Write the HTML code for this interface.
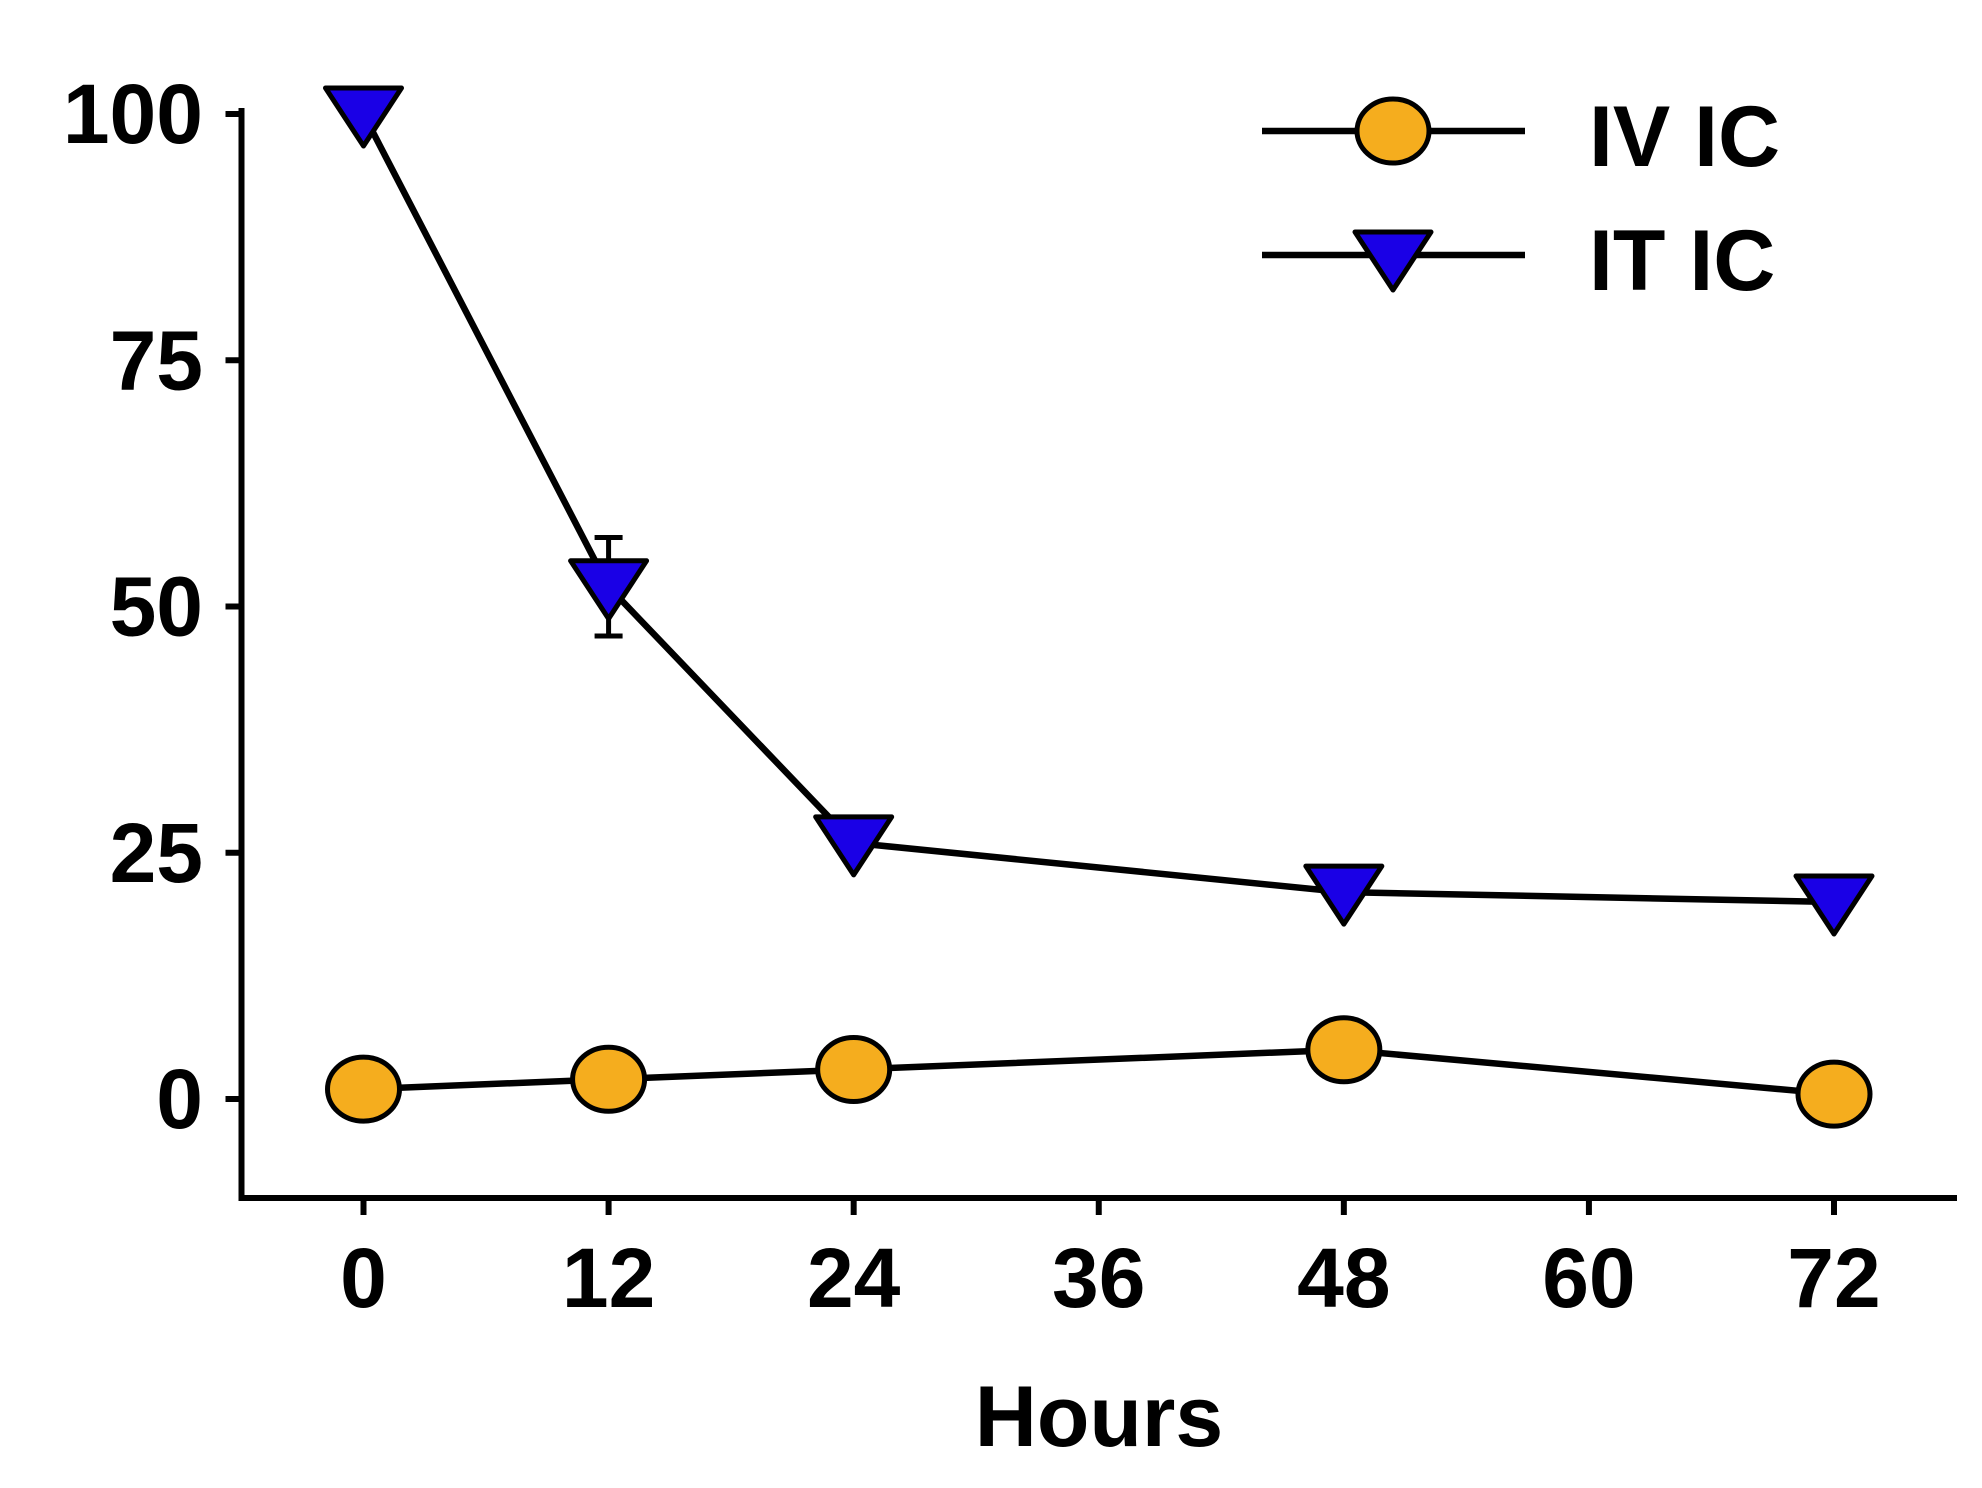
<!DOCTYPE html>
<html><head><meta charset="utf-8"><style>
html,body{margin:0;padding:0;background:#fff;}
svg{display:block;font-family:"Liberation Sans",Arial,sans-serif;font-weight:bold;}
</style></head><body>
<svg id="chart" width="1982" height="1488" viewBox="0 0 1982 1488" xmlns="http://www.w3.org/2000/svg"></svg>
<script>
const hours = [0, 12, 24, 48, 72];
const ivValues = [1, 2, 3, 5, 0.5];
const itValues = [100, 52, 26, 21, 20];
const itErrUpper = [null, 57, null, null, null];
const itErrLower = [null, 47, null, null, null];
const xTicks = [0, 12, 24, 36, 48, 60, 72];
const yTicks = [0, 25, 50, 75, 100];

const NS = "http://www.w3.org/2000/svg";
const svg = document.getElementById('chart');
const xs = v => 363.5 + v * (1834 - 363.5) / 72;
const ys = v => 1099 - v * (1099 - 114) / 100;
function mk(tag, attrs, parent) {
  const e = document.createElementNS(NS, tag);
  for (const k in attrs) e.setAttribute(k, attrs[k]);
  (parent || svg).appendChild(e);
  return e;
}
const axisX = 241.5, axisY = 1198;
let e;
e = mk('line', {x1: axisX, y1: 114 - 6, x2: axisX, y2: axisY + 3, stroke: '#000', 'stroke-width': 6});


e = mk('line', {x1: axisX - 3, y1: axisY, x2: 1957, y2: axisY, stroke: '#000', 'stroke-width': 6});


yTicks.forEach(t => {
  const y = ys(t);
  let tk = mk('line', {x1: axisX - 16, y1: y, x2: axisX, y2: y, stroke: '#000', 'stroke-width': 6});
  
  
  let lb = mk('text', {x: 203, y: y + 29, 'text-anchor': 'end', 'font-size': 84, fill: '#000'});
  lb.textContent = t;
  
  
});
xTicks.forEach(t => {
  const x = xs(t);
  let tk = mk('line', {x1: x, y1: axisY, x2: x, y2: axisY + 17, stroke: '#000', 'stroke-width': 6});
  
  
  let lb = mk('text', {x: x, y: 1307, 'text-anchor': 'middle', 'font-size': 84, fill: '#000'});
  lb.textContent = t;
  
  
});
e = mk('text', {x: 1099, y: 1446, 'text-anchor': 'middle', 'font-size': 86, fill: '#000'});
e.textContent = 'Hours';



function tri(cx, cy, parent) {
  return mk('polygon', {points: `${cx-38},${cy-26} ${cx+38},${cy-26} ${cx},${cy+32}`, fill: '#1a00e6', stroke: '#000', 'stroke-width': 5, 'stroke-linejoin': 'round'}, parent);
}
function circ(cx, cy, parent) {
  return mk('ellipse', {cx: cx, cy: cy, rx: 36, ry: 32, fill: '#f5ad1e', stroke: '#000', 'stroke-width': 5}, parent);
}
e = mk('polyline', {points: hours.map((h, i) => xs(h) + ',' + ys(itValues[i])).join(' '), fill: 'none', stroke: '#000', 'stroke-width': 6.5});


hours.forEach((h, i) => {
  if (itErrUpper[i] != null) {
    const g = mk('g', {});
    
    
    const x = xs(h);
    mk('line', {x1: x, y1: ys(itErrUpper[i]), x2: x, y2: ys(itErrLower[i]), stroke: '#000', 'stroke-width': 5}, g);
    mk('line', {x1: x - 14, y1: ys(itErrUpper[i]), x2: x + 14, y2: ys(itErrUpper[i]), stroke: '#000', 'stroke-width': 5}, g);
    mk('line', {x1: x - 14, y1: ys(itErrLower[i]), x2: x + 14, y2: ys(itErrLower[i]), stroke: '#000', 'stroke-width': 5}, g);
  }
});
hours.forEach((h, i) => {
  const p = tri(xs(h), ys(itValues[i]));
  
  
});
e = mk('polyline', {points: hours.map((h, i) => xs(h) + ',' + ys(ivValues[i])).join(' '), fill: 'none', stroke: '#000', 'stroke-width': 6.5});


hours.forEach((h, i) => {
  const c = circ(xs(h), ys(ivValues[i]));
  
  
});
const lg = mk('g', {});


const g1 = mk('g', {}, lg);


mk('line', {x1: 1262, y1: 131, x2: 1525, y2: 131, stroke: '#000', 'stroke-width': 6.5}, g1);
circ(1393, 131, g1);
let t1 = mk('text', {x: 1589, y: 166, 'font-size': 86, fill: '#000'}, g1);
t1.textContent = 'IV IC';
const g2 = mk('g', {}, lg);


mk('line', {x1: 1262, y1: 255, x2: 1525, y2: 255, stroke: '#000', 'stroke-width': 6.5}, g2);
tri(1393, 258, g2);
let t2 = mk('text', {x: 1589, y: 290, 'font-size': 86, fill: '#000'}, g2);
t2.textContent = 'IT IC';
</script>
</body></html>
